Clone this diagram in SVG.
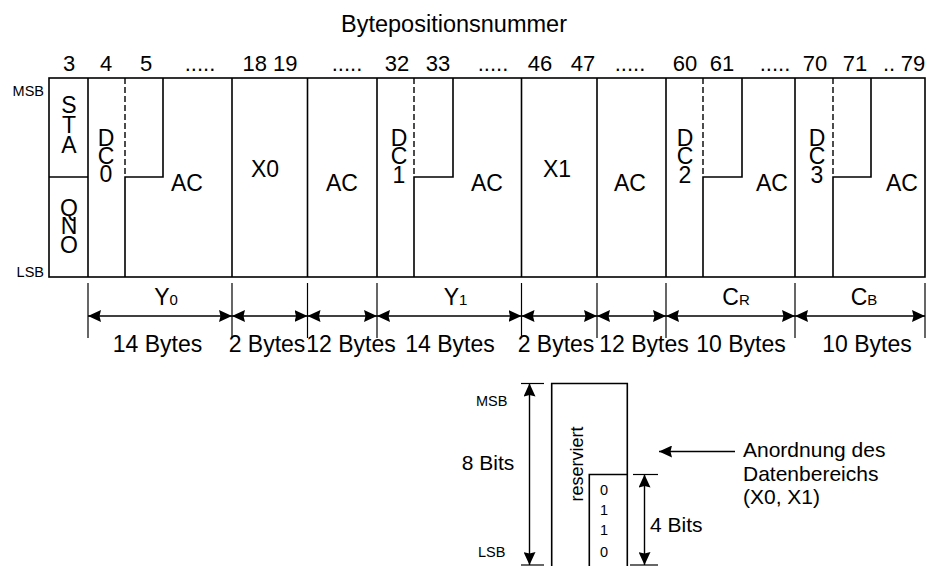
<svg xmlns="http://www.w3.org/2000/svg" width="936" height="566" viewBox="0 0 936 566">
<style>
text{font-family:"Liberation Sans",Arial,sans-serif;fill:#000}
.n{font-size:22px;text-anchor:middle}
.c{font-size:23px;text-anchor:middle}
.s{font-size:14.5px}
.ln{stroke:#000;stroke-width:1.6;fill:none}
.d{stroke:#000;stroke-width:1.4;stroke-dasharray:6 3;fill:none}
.dim{stroke:#000;stroke-width:1.4;fill:none;marker-start:url(#ah);marker-end:url(#ah)}
.ext{stroke:#000;stroke-width:1.2;fill:none}
</style>
<defs>
<marker id="ah" viewBox="0 0 13 12" refX="13" refY="6" markerWidth="13" markerHeight="12" markerUnits="userSpaceOnUse" orient="auto-start-reverse">
<path d="M0,0 L13,6 L0,12 L1.5,6 z" fill="#000"/>
</marker>
</defs>
<rect width="936" height="566" fill="#fff"/>
<text x="454" y="32" style="font-size:23.5px;text-anchor:middle">Bytepositionsnummer</text>
<g id="header">
<text class="n" x="69" y="70.5">3</text>
<text class="n" x="106" y="70.5">4</text>
<text class="n" x="146" y="70.5">5</text>
<text class="n" x="200" y="70.5">.....</text>
<text class="n" x="270" y="70.5">18 19</text>
<text class="n" x="347" y="70.5">.....</text>
<text class="n" x="397" y="70.5">32</text>
<text class="n" x="438" y="70.5">33</text>
<text class="n" x="493" y="70.5">.....</text>
<text class="n" x="540" y="70.5">46</text>
<text class="n" x="583" y="70.5">47</text>
<text class="n" x="630" y="70.5">.....</text>
<text class="n" x="685" y="70.5">60</text>
<text class="n" x="722" y="70.5">61</text>
<text class="n" x="775" y="70.5">.....</text>
<text class="n" x="815" y="70.5">70</text>
<text class="n" x="855" y="70.5">71</text>
<text class="n" x="889" y="70.5">..</text>
<text class="n" x="913" y="70.5">79</text>
</g>
<text class="s" x="44" y="95.5" text-anchor="end">MSB</text>
<text class="s" x="44" y="276.5" text-anchor="end">LSB</text>
<g id="frame">
<rect class="ln" x="49" y="78" width="876" height="199"/>
</g>
<g id="sta-qno">
<line class="ln" x1="88" y1="78" x2="88" y2="277"/>
<line class="ln" x1="49" y1="177" x2="88" y2="177"/>
<text class="c" x="69" y="113">S<tspan x="69" dy="20">T</tspan><tspan x="69" dy="20">A</tspan></text>
<text class="c" x="69" y="215.5">Q<tspan x="69" dy="18.5">N</tspan><tspan x="69" dy="18.5">O</tspan></text>
</g>
<g id="dc0">
<line class="d" x1="125" y1="78" x2="125" y2="177"/>
<path class="ln" d="M163,78 V177 H125 V277"/>
<text class="c" x="106" y="146">D<tspan x="106" dy="18">C</tspan><tspan x="106" dy="18">0</tspan></text>
</g>
<g id="ac0"><text class="c" x="187" y="191">AC</text></g>
<g id="x0">
<line class="ln" x1="232" y1="78" x2="232" y2="277"/>
<text class="c" x="265" y="177">X0</text>
</g>
<g id="ac-x0">
<line class="ln" x1="307.5" y1="78" x2="307.5" y2="277"/>
<text class="c" x="342" y="191">AC</text>
</g>
<g id="dc1">
<line class="ln" x1="377" y1="78" x2="377" y2="277"/>
<line class="d" x1="414" y1="78" x2="414" y2="177"/>
<path class="ln" d="M453,78 V177 H414 V277"/>
<text class="c" x="399" y="146">D<tspan x="399" dy="18">C</tspan><tspan x="399" dy="19">1</tspan></text>
</g>
<g id="ac1"><text class="c" x="487" y="191">AC</text></g>
<g id="x1">
<line class="ln" x1="521.5" y1="78" x2="521.5" y2="277"/>
<text class="c" x="557" y="177">X1</text>
</g>
<g id="ac-x1">
<line class="ln" x1="597" y1="78" x2="597" y2="277"/>
<text class="c" x="630" y="191">AC</text>
</g>
<g id="dc2">
<line class="ln" x1="666" y1="78" x2="666" y2="277"/>
<line class="d" x1="703" y1="78" x2="703" y2="177"/>
<path class="ln" d="M742,78 V177 H703 V277"/>
<text class="c" x="685" y="146">D<tspan x="685" dy="18">C</tspan><tspan x="685" dy="19">2</tspan></text>
</g>
<g id="ac2"><text class="c" x="772" y="191">AC</text></g>
<g id="dc3">
<line class="ln" x1="795" y1="78" x2="795" y2="277"/>
<line class="d" x1="833" y1="78" x2="833" y2="177"/>
<path class="ln" d="M871,78 V177 H833 V277"/>
<text class="c" x="817" y="146">D<tspan x="817" dy="18">C</tspan><tspan x="817" dy="19">3</tspan></text>
</g>
<g id="ac3"><text class="c" x="902" y="191">AC</text></g>
<g id="connectors">
<line class="ext" x1="88" y1="283" x2="88" y2="338"/>
<line class="ext" x1="232" y1="283" x2="232" y2="338"/>
<line class="ext" x1="307.5" y1="283" x2="307.5" y2="338"/>
<line class="ext" x1="377" y1="283" x2="377" y2="338"/>
<line class="ext" x1="521.5" y1="283" x2="521.5" y2="338"/>
<line class="ext" x1="597" y1="283" x2="597" y2="338"/>
<line class="ext" x1="666" y1="283" x2="666" y2="338"/>
<line class="ext" x1="795" y1="283" x2="795" y2="338"/>
<line class="ext" x1="925" y1="283" x2="925" y2="338"/>
<line class="dim" x1="88" y1="316" x2="232" y2="316"/>
<line class="dim" x1="232" y1="316" x2="307.5" y2="316"/>
<line class="dim" x1="307.5" y1="316" x2="377" y2="316"/>
<line class="dim" x1="377" y1="316" x2="521.5" y2="316"/>
<line class="dim" x1="521.5" y1="316" x2="597" y2="316"/>
<line class="dim" x1="597" y1="316" x2="666" y2="316"/>
<line class="dim" x1="666" y1="316" x2="795" y2="316"/>
<line class="dim" x1="795" y1="316" x2="925" y2="316"/>
<line class="ext" x1="521" y1="383.5" x2="544" y2="383.5"/>
<line class="ext" x1="521" y1="565" x2="544" y2="565"/>
<line class="dim" x1="529.5" y1="383.5" x2="529.5" y2="565"/>
<line class="ext" x1="633" y1="474.5" x2="658" y2="474.5"/>
<line class="ext" x1="630" y1="565" x2="658" y2="565"/>
<line class="dim" x1="644.5" y1="474.5" x2="644.5" y2="565"/>
<line stroke="#000" stroke-width="1.4" x1="735" y1="451.5" x2="659" y2="451.5" marker-end="url(#ah)"/>
</g>
<g id="dim-labels">
<text class="c" x="166" y="305">Y<tspan font-size="15">0</tspan></text>
<text class="c" x="455.5" y="305">Y<tspan font-size="15">1</tspan></text>
<text class="c" x="736" y="305">C<tspan font-size="15">R</tspan></text>
<text class="c" x="864" y="305">C<tspan font-size="15">B</tspan></text>
<text class="c" x="157.5" y="352">14 Bytes</text>
<text class="c" x="267" y="352">2 Bytes</text>
<text class="c" x="351" y="352">12 Bytes</text>
<text class="c" x="450" y="352">14 Bytes</text>
<text class="c" x="556" y="352">2 Bytes</text>
<text class="c" x="644" y="352">12 Bytes</text>
<text class="c" x="741" y="352">10 Bytes</text>
<text class="c" x="867" y="352">10 Bytes</text>
</g>
<g id="byte-detail">
<path class="ln" d="M551.7,570 V383.5 H627.3 V570"/>
<path class="ln" d="M589.3,570 V474.5 H627.3"/>
<text class="s" x="491.7" y="406" text-anchor="middle">MSB</text>
<text class="s" x="491.7" y="557" text-anchor="middle">LSB</text>
<text x="488" y="470" style="font-size:21px;text-anchor:middle">8 Bits</text>
<text transform="translate(583,464) rotate(-90)" style="font-size:18px;text-anchor:middle">reserviert</text>
<text class="s" x="604" y="495" text-anchor="middle">0<tspan x="604" dy="20">1</tspan><tspan x="604" dy="20">1</tspan><tspan x="604" dy="22">0</tspan></text>
<text x="650" y="532" style="font-size:21px">4 Bits</text>
</g>
<g id="legend">
<text x="743" y="457" style="font-size:21px">Anordnung des<tspan x="743" dy="24">Datenbereichs</tspan><tspan x="743" dy="23">(X0, X1)</tspan></text>
</g>
</svg>
